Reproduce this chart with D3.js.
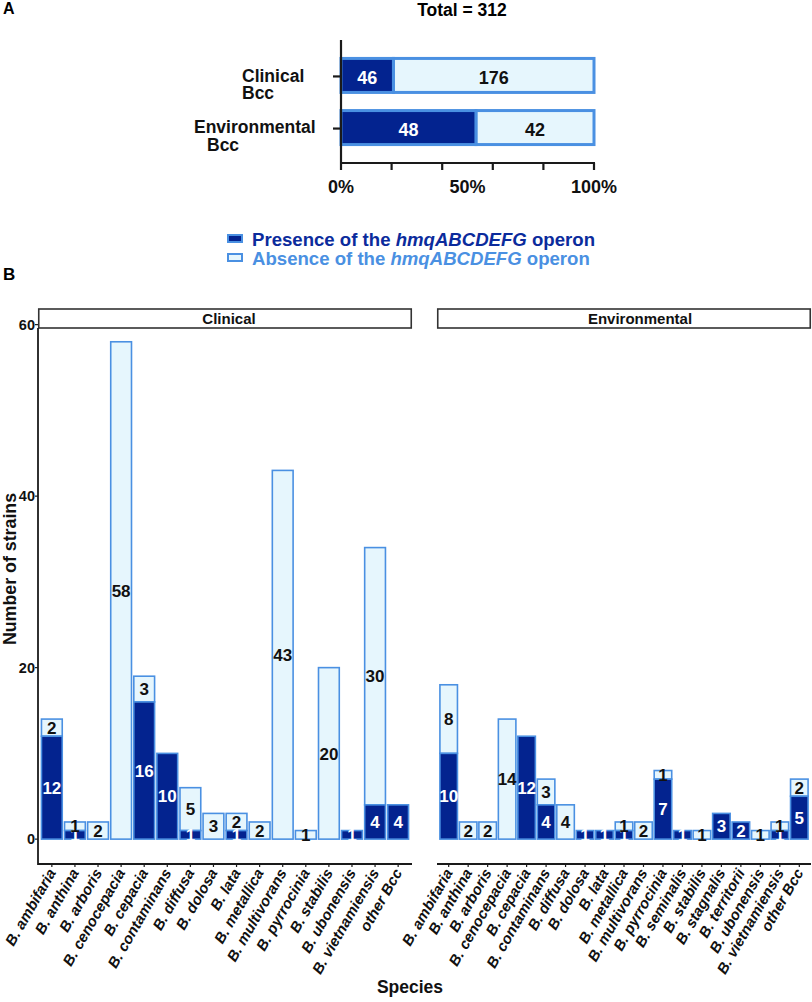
<!DOCTYPE html>
<html><head><meta charset="utf-8">
<script src="https://cdn.jsdelivr.net/npm/d3@7/dist/d3.min.js"></script>
<style>
body{margin:0;background:#fff;}
text{font-family:"Liberation Sans",Arial,Helvetica,sans-serif;font-weight:bold;}
</style></head>
<body><svg id="chart" width="812" height="1002"></svg>
<script>
// ---------- DATA ----------
const summaryGroups = ["Clinical Bcc", "Environmental Bcc"];
const summaryPresence = [46, 48];
const summaryAbsence = [176, 42];
const pctTickValues = [0, 0.2, 0.4, 0.6, 0.8, 1];
const pctLabelValues = [0, 0.5, 1];

const clinicalSpecies = ["B. ambifaria","B. anthina","B. arboris","B. cenocepacia","B. cepacia","B. contaminans","B. diffusa","B. dolosa","B. lata","B. metallica","B. multivorans","B. pyrrocinia","B. stabilis","B. ubonensis","B. vietnamiensis","other Bcc"];
const clinicalPresence = [12,1,0,0,16,10,1,0,1,0,0,0,0,1,4,4];
const clinicalAbsence  = [2,1,2,58,3,0,5,3,2,2,43,1,20,0,30,0];

const envSpecies = ["B. ambifaria","B. anthina","B. arboris","B. cenocepacia","B. cepacia","B. contaminans","B. diffusa","B. dolosa","B. lata","B. metallica","B. multivorans","B. pyrrocinia","B. seminalis","B. stabilis","B. stagnalis","B. territorii","B. ubonensis","B. vietnamiensis","other Bcc"];
const envPresence = [10,0,0,0,12,4,0,1,1,1,0,7,1,0,3,2,0,1,5];
const envAbsence  = [8,2,2,14,0,3,4,0,0,1,2,1,0,1,0,0,1,1,2];

const countTicks = [0, 20, 40, 60];
const legendLabels = ["Presence of the ", "Absence of the "];

// ---------- STYLE ----------
const DARK = "#03238f", LIGHT = "#e6f6fd", EDGE = "#4a90e2", LEGDARK = "#0b2b9c", AXIS = "#1a1a1a";
const svg = d3.select("#chart");

// ---------- PANEL A ----------
svg.append("text").attr("x", 3).attr("y", 14).attr("font-size", 16).text("A");
svg.append("text").attr("x", 462).attr("y", 16).attr("font-size", 17.5).attr("text-anchor", "middle").text("Total = 312");

const xA = d3.scaleLinear().domain([0, 1]).range([341, 594]);
const yA = d3.scalePoint().domain(summaryGroups).range([40, 163]).padding(0.68);
const barHA = 34;

const rowsA = summaryGroups.map((g, i) => {
  const tot = summaryPresence[i] + summaryAbsence[i];
  return {g, p: summaryPresence[i], a: summaryAbsence[i], fp: summaryPresence[i] / tot};
});
const gA = svg.append("g");
rowsA.forEach(r => {
  const yc = yA(r.g);
  gA.append("rect").attr("x", xA(r.fp)).attr("y", yc - barHA / 2)
    .attr("width", xA(1) - xA(r.fp)).attr("height", barHA)
    .attr("fill", LIGHT).attr("stroke", EDGE).attr("stroke-width", 3);
  gA.append("rect").attr("x", xA(0)).attr("y", yc - barHA / 2)
    .attr("width", xA(r.fp) - xA(0)).attr("height", barHA)
    .attr("fill", DARK).attr("stroke", EDGE).attr("stroke-width", 3);
  gA.append("text").attr("x", (xA(0) + xA(r.fp)) / 2).attr("y", yc + 2).attr("dy", "0.35em")
    .attr("text-anchor", "middle").attr("font-size", 18).attr("fill", "#fff").text(r.p);
  gA.append("text").attr("x", (xA(r.fp) + xA(1)) / 2).attr("y", yc + 2).attr("dy", "0.35em")
    .attr("text-anchor", "middle").attr("font-size", 18).attr("fill", "#111").text(r.a);
});
// axes A
gA.append("line").attr("x1", xA(0)).attr("x2", xA(0)).attr("y1", 40).attr("y2", 163).attr("stroke", AXIS).attr("stroke-width", 2.2);
gA.append("line").attr("x1", xA(0)).attr("x2", xA(1) + 1).attr("y1", 163).attr("y2", 163).attr("stroke", AXIS).attr("stroke-width", 2.2);
pctTickValues.forEach(v => {
  gA.append("line").attr("x1", xA(v)).attr("x2", xA(v)).attr("y1", 163).attr("y2", 170).attr("stroke", AXIS).attr("stroke-width", 2.2);
});
pctLabelValues.forEach(v => {
  gA.append("text").attr("x", xA(v)).attr("y", 193).attr("text-anchor", "middle").attr("font-size", 18).attr("fill", "#111").text(d3.format(".0%")(v));
});
summaryGroups.forEach(g => {
  const yc = yA(g);
  gA.append("line").attr("x1", xA(0) - 8).attr("x2", xA(0)).attr("y1", yc + 1).attr("y2", yc + 1).attr("stroke", AXIS).attr("stroke-width", 2.2);
});
// category labels (two lines)
const labA = [
  {lines: ["Clinical", "Bcc"], xs: [242, 242], ys: [82, 99]},
  {lines: ["Environmental", "Bcc"], xs: [194, 207], ys: [133, 151]}
];
labA.forEach(l => l.lines.forEach((t, j) => {
  gA.append("text").attr("x", l.xs[j]).attr("y", l.ys[j]).attr("font-size", 17.5).attr("fill", "#111").text(t);
}));

// ---------- LEGEND ----------
const leg = svg.append("g");
[0, 1].forEach(i => {
  const y0 = 235 + i * 19;
  leg.append("rect").attr("x", 228).attr("y", y0).attr("width", 14).attr("height", 7)
    .attr("fill", i === 0 ? DARK : LIGHT).attr("stroke", EDGE).attr("stroke-width", 2);
  const t = leg.append("text").attr("x", 252).attr("y", y0 + 11).attr("font-size", 18.6)
    .attr("fill", i === 0 ? LEGDARK : EDGE);
  t.append("tspan").text(legendLabels[i]);
  t.append("tspan").attr("font-style", "italic").text("hmqABCDEFG");
  t.append("tspan").text(" operon");
});

// ---------- PANEL B ----------
svg.append("text").attr("x", 3).attr("y", 280).attr("font-size", 17).text("B");

const y = d3.scaleLinear().domain([-2.9, 60.9]).range([864, 864 - 63.8 * 8.575]);
const panelTop = 328, axisY = 864;

function facet(species, pres, abs, x0, x1, title, titleX, drawYAxis) {
  const g = svg.append("g");
  const x = d3.scalePoint().domain(species).range([x0, x1]).padding(0.6);
  const bw = x.step() * 0.9;
  const rows = species.map((s, i) => ({s, p: pres[i], a: abs[i]}));
  // strip
  g.append("rect").attr("x", x0 + 0.75).attr("y", 309).attr("width", x1 - x0 - 1.5).attr("height", 19)
    .attr("fill", "#fff").attr("stroke", "#333").attr("stroke-width", 1.6);
  g.append("text").attr("x", titleX).attr("y", 319).attr("dy", "0.36em").attr("text-anchor", "middle")
    .attr("font-size", 15).attr("fill", "#111").text(title);
  // bars
  rows.forEach(r => {
    if (r.a > 0) g.append("rect").attr("x", x(r.s) - bw / 2).attr("y", y(r.p + r.a)).attr("width", bw)
      .attr("height", y(r.p) - y(r.p + r.a)).attr("fill", LIGHT).attr("stroke", EDGE).attr("stroke-width", 1.6);
    if (r.p > 0) g.append("rect").attr("x", x(r.s) - bw / 2).attr("y", y(r.p)).attr("width", bw)
      .attr("height", y(0) - y(r.p)).attr("fill", DARK).attr("stroke", EDGE).attr("stroke-width", 1.6);
  });
  rows.forEach(r => {
    if (r.p > 0) g.append("text").attr("x", x(r.s)).attr("y", y(r.p / 2)).attr("dy", "0.36em")
      .attr("text-anchor", "middle").attr("font-size", 17).attr("fill", "#fff").text(r.p);
    if (r.a > 0) g.append("text").attr("x", x(r.s)).attr("y", y(r.p + r.a / 2)).attr("dy", "0.36em")
      .attr("text-anchor", "middle").attr("font-size", 17).attr("fill", "#111").text(r.a);
  });
  // x axis
  g.append("line").attr("x1", x0).attr("x2", x1).attr("y1", axisY).attr("y2", axisY).attr("stroke", AXIS).attr("stroke-width", 1.8);
  species.forEach(s => {
    g.append("line").attr("x1", x(s)).attr("x2", x(s)).attr("y1", axisY).attr("y2", axisY + 3).attr("stroke", AXIS).attr("stroke-width", 1.2);
    g.append("text").attr("transform", `translate(${x(s)},${axisY + 6}) rotate(-60)`)
      .attr("text-anchor", "end").attr("dy", "0.35em").attr("font-size", 15).attr("font-style", "italic")
      .attr("fill", "#111").text(s);
  });
  if (drawYAxis) {
    g.append("line").attr("x1", x0).attr("x2", x0).attr("y1", panelTop).attr("y2", axisY + 0.9).attr("stroke", AXIS).attr("stroke-width", 1.8);
    countTicks.forEach(v => {
      g.append("line").attr("x1", x0 - 3).attr("x2", x0).attr("y1", y(v)).attr("y2", y(v)).attr("stroke", AXIS).attr("stroke-width", 1.2);
      g.append("text").attr("x", x0 - 3).attr("y", y(v)).attr("dy", "0.36em").attr("text-anchor", "end")
        .attr("font-size", 14.5).attr("fill", "#111").text(v);
    });
  }
}
facet(clinicalSpecies, clinicalPresence, clinicalAbsence, 38, 412, "Clinical", 229, true);
facet(envSpecies, envPresence, envAbsence, 437, 811, "Environmental", 640, false);

svg.append("text").attr("transform", "translate(16,569) rotate(-90)").attr("text-anchor", "middle")
  .attr("font-size", 17.8).attr("fill", "#111").text("Number of strains");
svg.append("text").attr("x", 410).attr("y", 993).attr("text-anchor", "middle")
  .attr("font-size", 17.5).attr("fill", "#111").text("Species");
</script></body></html>
